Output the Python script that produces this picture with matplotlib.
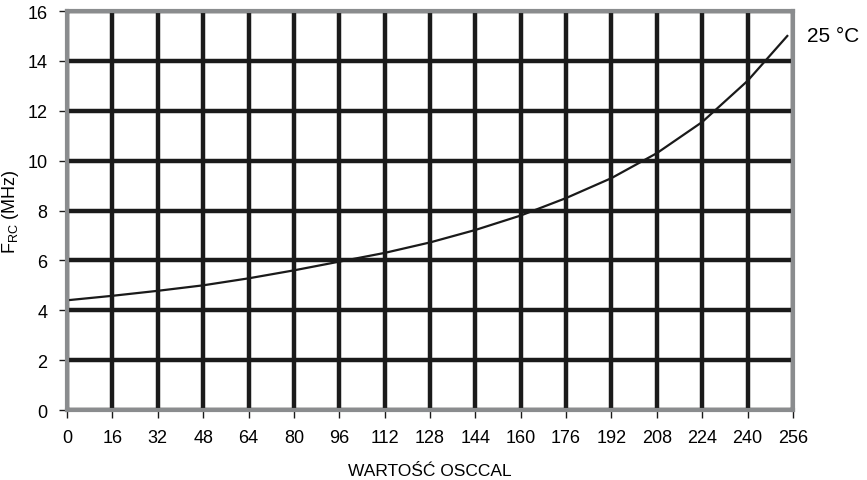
import numpy as np
import matplotlib
matplotlib.use("Agg")
import matplotlib.pyplot as plt

plt.rcParams['font.family'] = ['Liberation Sans', 'DejaVu Sans']

# OSCCAL value vs RC oscillator frequency at 25 C
osccal = [0, 16, 32, 48, 64, 80, 96, 112, 128, 144, 160, 176, 192, 208, 224, 240, 254]
freq = [4.4, 4.58, 4.78, 5.0, 5.28, 5.6, 5.95, 6.3, 6.72, 7.22, 7.8, 8.5, 9.3, 10.3, 11.55, 13.2, 15.0]
xticks = list(range(0, 257, 16))
yticks = list(range(0, 17, 2))

fig = plt.figure(figsize=(8.67, 4.81), dpi=100)
ax = fig.add_axes([0.0773, 0.1455, 0.8373, 0.8295])

ax.plot(osccal, freq, color='#1a1a1a', lw=1.6, zorder=3)

ax.set_xlim(0, 256)
ax.set_ylim(0, 16)
ax.set_xticks(xticks)
ax.set_yticks(yticks)
ax.grid(True, color='#1a1a1a', lw=3.2)
ax.tick_params(direction='out', length=6, width=1, color='#1a1a1a', labelsize=13, pad=8)
for s in ax.spines.values():
    s.set_color('#8a8c8e')
    s.set_linewidth(3)
    s.set_zorder(4)

ax.set_xlabel('WARTOŚĆ OSCCAL', fontsize=12.5, labelpad=12)
ax.set_ylabel('F$_{\\mathregular{RC}}$ (MHz)', fontsize=13)
ax.yaxis.set_label_coords(-0.063, 0.5)
ax.text(1.02, 15.0 / 16, '25 °C', transform=ax.transAxes, fontsize=15, va='center', ha='left')

fig.savefig('out.png', dpi=100)
